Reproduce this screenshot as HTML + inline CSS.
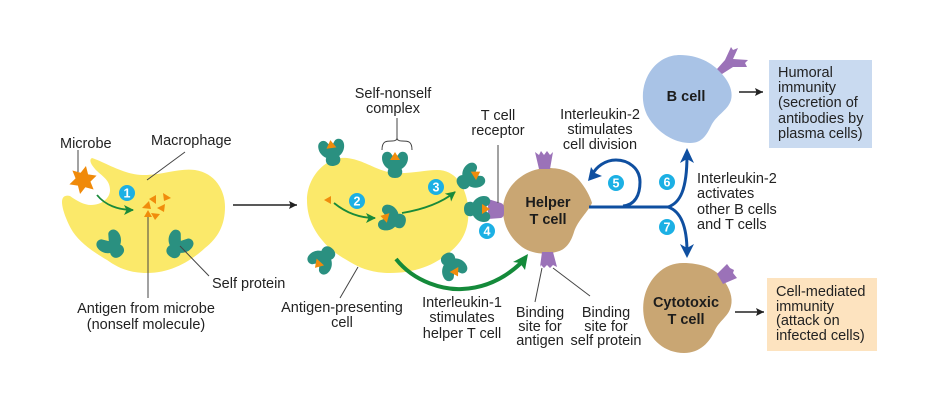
<!DOCTYPE html>
<html><head><meta charset="utf-8"><style>
html,body{margin:0;padding:0;background:#fff}
svg{display:block;filter:blur(0.35px)}
text{font-family:"Liberation Sans",sans-serif;font-size:14.5px;fill:#222}
.c{text-anchor:middle}
.b{font-weight:bold;fill:#1c1c1c}
.n{font-weight:bold;font-size:12.5px;fill:#fff;text-anchor:middle}
</style></head><body>
<svg width="940" height="402" viewBox="0 0 940 402" xmlns="http://www.w3.org/2000/svg">
<defs>
<g id="p"><path d="M0 -5 L4 -10.5 C6 -13.5,13 -13,13 -6 C13 -1,10 3,6.5 5 C8 7,8 14,0 14 C-8 14,-8 7,-6.5 5 C-10 3,-13 -1,-13 -6 C-13 -13,-6 -13.5,-4 -10.5 Z" fill="#2a9080"/></g>
<g id="t"><use href="#p"/><path d="M0 -12 L5 -4 L-5 -4 Z" fill="#f08c0c"/></g>
<marker id="ga" markerUnits="userSpaceOnUse" markerWidth="12" markerHeight="12" refX="9" refY="5" orient="auto"><path d="M0 0 L10 5 L0 10 L2.5 5 Z" fill="#1a8a3a"/></marker>
<marker id="ka" markerUnits="userSpaceOnUse" markerWidth="10" markerHeight="10" refX="8" refY="4" orient="auto"><path d="M0 0 L8 4 L0 8 L1.5 4 Z" fill="#222"/></marker>
</defs>

<!-- cells -->
<path d="M92 158 C105 162,125 176,147 175 C165 174,180 168,195 170 C215 173,225 190,225 207 C225 225,218 238,205 248 C190 262,170 273,147 273 C130 273,118 268,107 260 C90 250,80 242,73 232 C68 224,62 210,62 202 C62 196,66 195,70 196 C77 201,84 205,91 205 C102 205,110 198,110 190 C110 180,102 176,97 171 C92 166,88 160,92 158 Z" fill="#fbe96a"/>
<path d="M347 158 C365 160,378 172,395 173 C410 174,425 170,437 170 C455 170,465 185,468 205 C470 225,465 240,450 252 C435 265,415 273,390 273 C372 273,360 268,350 262 C338 255,330 250,322 240 C312 228,307 215,307 200 C307 178,325 156,347 158 Z" fill="#fbe96a"/>
<path d="M548 168 C562 168,572 172,579 180 C585 187,590 196,592 203 C588 212,578 220,574 232 C571 242,566 250,556 252 C546 255,532 254,522 247 C510 238,503 225,503 210 C503 186,525 168,548 168 Z" fill="#c9a673"/>
<path d="M680 55 C697 55,712 62,722 74 C730 83,733 92,731 100 C728 110,718 114,712 124 C707 134,703 143,690 143 C672 143,655 130,647 115 C640 100,642 82,652 69 C660 59,670 55,680 55 Z" fill="#a9c3e6"/>
<path d="M683 263 C700 263,715 268,722 278 C730 288,733 298,731 306 C729 316,720 320,715 330 C710 342,700 353,684 353 C665 353,650 340,645 322 C640 302,646 285,657 274 C665 266,674 263,683 263 Z" fill="#c9a673"/>

<!-- purple receptors -->
<path d="M535 152 L539 155 L541 151 L544 155 L547 151 L550 155 L553 152 L550 169 L539 169 Z" fill="#9b72b8"/>
<path d="M542 252 L553 252 L557 267 L553 265 L550 268 L547 265 L544 268 L541 265 L540 267 Z" fill="#9b72b8"/>
<path d="M488 199 L501 203 Q504 204,504 208 L504 213 Q504 217,501 218 L488 219 Z" fill="#9b72b8"/>
<path d="M717 69 L725 60 L731 47 L733 50 L738 48 L733 59 L748 60 L745 63 L747 67 L733 67 L722 74 Z" fill="#9b72b8"/>
<path d="M717 274 L727 264 L730 268 L734 270 L733 273 L737 278 L730 281 L723 284 Z" fill="#9b72b8"/>

<!-- proteins -->
<use href="#t" transform="translate(332 152) rotate(-8)"/>
<use href="#t" transform="translate(395 164)"/>
<use href="#t" transform="translate(470 178) rotate(58)"/>
<use href="#t" transform="translate(478 209) rotate(90)"/>
<use href="#t" transform="translate(392 219) rotate(-75)"/>
<use href="#t" transform="translate(323 259) rotate(222)"/>
<use href="#t" transform="translate(452 266) rotate(150)"/>
<use href="#p" transform="translate(112 245) rotate(-40)"/>
<use href="#p" transform="translate(178 245) rotate(35)"/>

<!-- microbe -->
<path transform="translate(83 180) rotate(12) scale(0.95)" d="M0 -15 L4 -6.9 L13 -7.5 L8 0 L13 7.5 L4 6.9 L0 15 L-4 6.9 L-13 7.5 L-8 0 L-13 -7.5 L-4 -6.9 Z" fill="#f08a0a"/>

<!-- orange antigens -->
<g fill="#f08c0c">
<path d="M142 208 L149 201 L151 209 Z"/><path d="M149 199 L156 195 L156 204 Z"/><path d="M163 193 L171 198 L164 201 Z"/><path d="M157 208 L165 204 L164 212 Z"/><path d="M151 213 L160 214 L155 220 Z"/><path d="M148 210 L152 217 L144 217 Z"/>
<path d="M324 200 L331 196 L331 204 Z"/>
</g>

<!-- leader lines -->
<g stroke="#444" stroke-width="1" fill="none">
<path d="M78 150 V172"/><path d="M185 152 L147 180"/><path d="M180 246 L209 276"/><path d="M148 217 V298"/><path d="M358 267 L340 298"/><path d="M498 145 V203"/><path d="M542 268 L535 302"/><path d="M553 268 L590 296"/>
<path d="M397 118 V138 M382 150 C382 141,386 141,392 141 C395 141,397 140,397 138 C397 140,399 141,402 141 C408 141,412 141,412 150"/>
</g>

<!-- black arrows -->
<g stroke="#222" stroke-width="1.6" fill="none" marker-end="url(#ka)">
<path d="M233 205 H297"/><path d="M739 92 H763"/><path d="M735 312 H764"/>
</g>

<!-- green arrows -->
<g stroke="#1a8a3a" stroke-width="1.8" fill="none" marker-end="url(#ga)">
<path d="M97 195 C105 205,118 210,133 210"/>
<path d="M334 203 C345 212,358 218,375 218"/>
<path d="M402 213 C420 210,440 204,455 192"/>
</g>
<path d="M396 259 C415 283,445 290,462 289 C485 288,505 278,521 263" stroke="#148a3a" stroke-width="4" fill="none"/>
<path d="M528 254 L525 270 L520 263 L513 262 Z" fill="#148a3a"/>

<!-- blue arrows -->
<g stroke="#0f4fa0" fill="none" stroke-width="3">
<path d="M589 207 H670"/>
<path d="M623 206 C635 205,640 195,640 182 C640 168,628 160,616 160 C605 160,596 167,592 175"/>
<path d="M668 207 C680 203,687 190,687 155"/>
<path d="M668 207 C680 211,687 225,687 252"/>
</g>
<g fill="#0f4fa0">
<path d="M588 181 L591 167 L595 173 L602 176 Z"/>
<path d="M687 148 L694 163 L687 159 L680 163 Z"/>
<path d="M687 258 L680 244 L687 248 L694 244 Z"/>
</g>

<!-- number badges -->
<g fill="#1cb0e4">
<circle cx="127" cy="193" r="8"/><circle cx="357" cy="201" r="8"/><circle cx="436" cy="187" r="8"/><circle cx="487" cy="231" r="8"/><circle cx="616" cy="183" r="8"/><circle cx="667" cy="182" r="8"/><circle cx="667" cy="227" r="8"/>
</g>
<text class="n" x="127" y="197.5">1</text><text class="n" x="357" y="205.5">2</text><text class="n" x="436" y="191.5">3</text><text class="n" x="487" y="235.5">4</text><text class="n" x="616" y="187.5">5</text><text class="n" x="667" y="186.5">6</text><text class="n" x="667" y="231.5">7</text>

<!-- boxes -->
<rect x="769" y="60" width="103" height="88" fill="#c9daf0"/>
<rect x="767" y="278" width="110" height="73" fill="#fde3bf"/>

<!-- labels -->
<text x="60" y="148">Microbe</text>
<text x="151" y="145">Macrophage</text>
<text x="212" y="288">Self protein</text>
<text class="c" x="146" y="313">Antigen from microbe</text>
<text class="c" x="146" y="329">(nonself molecule)</text>
<text class="c" x="393" y="98">Self-nonself</text>
<text class="c" x="393" y="113">complex</text>
<text class="c" x="498" y="120">T cell</text>
<text class="c" x="498" y="135">receptor</text>
<text class="c" x="600" y="119">Interleukin-2</text>
<text class="c" x="600" y="134">stimulates</text>
<text class="c" x="600" y="149">cell division</text>
<text x="697" y="183">Interleukin-2</text>
<text x="697" y="198">activates</text>
<text x="697" y="214">other B cells</text>
<text x="697" y="229">and T cells</text>
<text class="c" x="342" y="312">Antigen-presenting</text>
<text class="c" x="342" y="327">cell</text>
<text class="c" x="462" y="307">Interleukin-1</text>
<text class="c" x="462" y="322">stimulates</text>
<text class="c" x="462" y="338">helper T cell</text>
<text class="c" x="540" y="317">Binding</text>
<text class="c" x="540" y="331">site for</text>
<text class="c" x="540" y="345">antigen</text>
<text class="c" x="606" y="317">Binding</text>
<text class="c" x="606" y="331">site for</text>
<text class="c" x="606" y="345">self protein</text>
<text class="c b" x="548" y="207">Helper</text>
<text class="c b" x="548" y="224">T cell</text>
<text class="c b" x="686" y="101">B cell</text>
<text class="c b" x="686" y="307">Cytotoxic</text>
<text class="c b" x="686" y="324">T cell</text>
<text x="778" y="77">Humoral</text>
<text x="778" y="92">immunity</text>
<text x="778" y="107">(secretion of</text>
<text x="778" y="123">antibodies by</text>
<text x="778" y="138">plasma cells)</text>
<text x="776" y="296">Cell-mediated</text>
<text x="776" y="311">immunity</text>
<text x="776" y="325">(attack on</text>
<text x="776" y="340">infected cells)</text>
</svg>
</body></html>
